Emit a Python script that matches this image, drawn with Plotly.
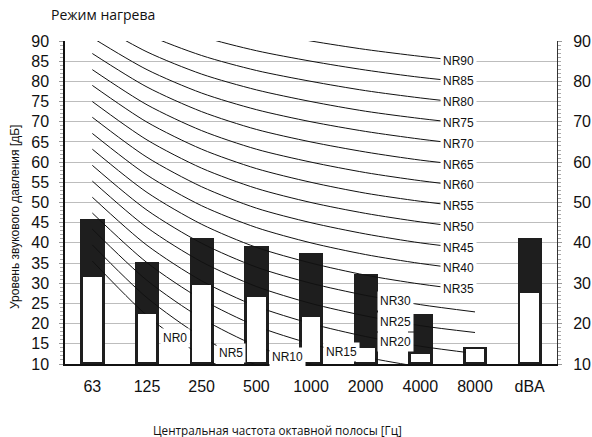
import numpy as np
import plotly.graph_objects as go

# ---------------- data ----------------
categories = ["63", "125", "250", "500", "1000", "2000", "4000", "8000", "dBA"]
bands = categories[:8]

# upper (black) and lower (white) sound levels, dB
level_max = [46, 35.3, 41.3, 39.3, 37.4, 32.3, 22.3, 14.3, 41.3]
level_min = [31.6, 22.5, 29.6, 26.7, 21.7, 14.0, 12.6, 13.6, 27.5]

# NR curves (tabulated values per octave band 63..8000 Hz)
nr_names = ["NR0", "NR5", "NR10", "NR15", "NR20", "NR25", "NR30", "NR35", "NR40",
            "NR45", "NR50", "NR55", "NR60", "NR65", "NR70", "NR75", "NR80", "NR85", "NR90"]
nr0 = [35.5, 22.0, 12.0, 4.8, 0.0, -3.5, -6.1, -8.0]
nr5 = [39.5, 26.4, 16.7, 9.7, 5.0, 1.6, -1.0, -2.9]
nr10 = [43.4, 30.7, 21.3, 14.5, 10.0, 6.7, 4.2, 2.3]
nr15 = [47.4, 35.1, 26.0, 19.4, 15.0, 11.7, 9.3, 7.5]
nr20 = [51.3, 39.4, 30.6, 24.3, 20.0, 16.8, 14.4, 12.6]
nr25 = [55.3, 43.8, 35.3, 29.2, 25.0, 21.9, 19.5, 17.8]
nr30 = [59.2, 48.1, 39.9, 34.0, 30.0, 27.0, 24.7, 22.9]
nr35 = [63.2, 52.5, 44.6, 38.9, 35.0, 32.0, 29.8, 28.1]
nr40 = [67.1, 56.8, 49.2, 43.8, 40.0, 37.1, 34.9, 33.2]
nr45 = [71.1, 61.2, 53.9, 48.6, 45.0, 42.2, 40.0, 38.4]
nr50 = [75.0, 65.5, 58.5, 53.5, 50.0, 47.3, 45.2, 43.5]
nr55 = [79.0, 69.9, 63.2, 58.4, 55.0, 52.3, 50.3, 48.7]
nr60 = [82.9, 74.2, 67.8, 63.2, 60.0, 57.4, 55.4, 53.8]
nr65 = [86.9, 78.6, 72.5, 68.1, 65.0, 62.5, 60.5, 59.0]
nr70 = [90.8, 82.9, 77.1, 73.0, 70.0, 67.6, 65.7, 64.1]
nr75 = [94.8, 87.3, 81.8, 77.9, 75.0, 72.6, 70.8, 69.3]
nr80 = [98.7, 91.6, 86.4, 82.7, 80.0, 77.7, 75.9, 74.4]
nr85 = [102.7, 96.0, 91.1, 87.6, 85.0, 82.8, 81.0, 79.6]
nr90 = [106.6, 100.3, 95.7, 92.5, 90.0, 87.9, 86.2, 84.7]
nr_curves = [nr0, nr5, nr10, nr15, nr20, nr25, nr30, nr35, nr40, nr45, nr50,
             nr55, nr60, nr65, nr70, nr75, nr80, nr85, nr90]

left_ticks = list(range(10, 95, 5))
right_ticks = list(range(10, 95, 10))

# where along the curve (category units) each label sits
label_pos = [1.51, 2.54, 3.57, 4.55, 5.54, 5.54, 5.54] + [6.70] * 12

# ---------------- figure ----------------
FONT = "Liberation Sans, Arial, sans-serif"
W, H = 592, 437
L, R, T, B = 65, 35, 41, 73
PW, PH = W - L - R, H - T - B


def px(x):
    return (x - L) / PW


def py(y):
    return (H - B - y) / PH


fig = go.Figure()

for name, vals in zip(nr_names, nr_curves):
    fig.add_trace(go.Scatter(
        x=bands, y=vals, mode="lines", name=name,
        line=dict(color="#111111", width=1, shape="spline", smoothing=0.8),
        hoverinfo="skip", showlegend=False))

base = 10
inner_base = 10.6
fig.add_trace(go.Bar(
    x=categories, y=[v - base for v in level_max], base=base,
    width=0.445, marker=dict(color="#1e1e1e", line=dict(width=0)),
    showlegend=False, hoverinfo="skip"))
# inner (white) part drawn on the right-hand axis (same scale), above the black bars
fig.add_trace(go.Bar(
    x=categories, y=[v - inner_base for v in level_min], base=inner_base,
    width=0.34, marker=dict(color="#ffffff", line=dict(width=0)),
    showlegend=False, hoverinfo="skip", yaxis="y2"))


def local_cubic(vals, t):
    i0 = int(np.clip(np.floor(t) - 1, 0, len(vals) - 4))
    xs = np.arange(i0, i0 + 4)
    coef = np.polyfit(xs, vals[i0:i0 + 4], 3)
    return float(np.polyval(coef, t))


for name, vals, t in zip(nr_names, nr_curves, label_pos):
    fig.add_annotation(
        x=t, y=local_cubic(vals, t), xref="x", yref="y", text=name,
        showarrow=False, bgcolor="#ffffff", borderpad=2,
        font=dict(family=FONT, size=12, color="#111111"))

fig.add_annotation(x=px(49), y=py(15), xref="paper", yref="paper",
                   text="Режим нагрева", showarrow=False, xanchor="left",
                   yanchor="middle", font=dict(family="Open Sans, sans-serif", size=14, color="#111111"))
fig.add_annotation(x=px(277), y=py(430), xref="paper", yref="paper",
                   text="Центральная частота октавной полосы [Гц]", showarrow=False,
                   xanchor="center", yanchor="middle",
                   font=dict(family="Open Sans, sans-serif", size=11.7, color="#111111"))
fig.add_annotation(x=px(15), y=py(217), xref="paper", yref="paper",
                   text="Уровень звукового давления [дБ]", showarrow=False,
                   textangle=-90, xanchor="center", yanchor="middle",
                   font=dict(family=FONT, size=12, color="#111111"))

fig.update_layout(
    width=W, height=H,
    margin=dict(l=L, r=R, t=T, b=B, autoexpand=False),
    paper_bgcolor="white", plot_bgcolor="white",
    barmode="overlay", bargap=0,
    xaxis=dict(type="category", categoryorder="array", categoryarray=categories,
               range=[-0.5, 8.5], showgrid=False, ticks="", automargin=False,
               showline=True, linecolor="#111111", linewidth=2,
               tickfont=dict(family=FONT, size=16, color="#111111"),
               ticklabelstandoff=7),
    yaxis=dict(range=[10, 90], tickvals=left_ticks, showgrid=True, automargin=False,
               gridcolor="#bdbdbd", gridwidth=1, zeroline=False,
               showline=True, linecolor="#111111", linewidth=1.5,
               ticks="outside", ticklen=4, tickcolor="#999999",
               minor=dict(dtick=1, ticks="outside", ticklen=3, tickcolor="#aaaaaa", showgrid=False),
               tickfont=dict(family=FONT, size=16, color="#111111"), ticklabelstandoff=7),
    yaxis2=dict(range=[10, 90], tickvals=right_ticks, overlaying="y", side="right",
                showgrid=False, zeroline=False, showline=True, linecolor="#333333", linewidth=1,
                ticks="outside", ticklen=4, tickcolor="#999999", automargin=False,
                minor=dict(dtick=1, ticks="outside", ticklen=3, tickcolor="#aaaaaa"),
                tickfont=dict(family=FONT, size=16, color="#111111"), ticklabelstandoff=8),
)

fig.write_html("out.html", config={"displayModeBar": False},
               post_script="document.body.style.margin='0px';")
